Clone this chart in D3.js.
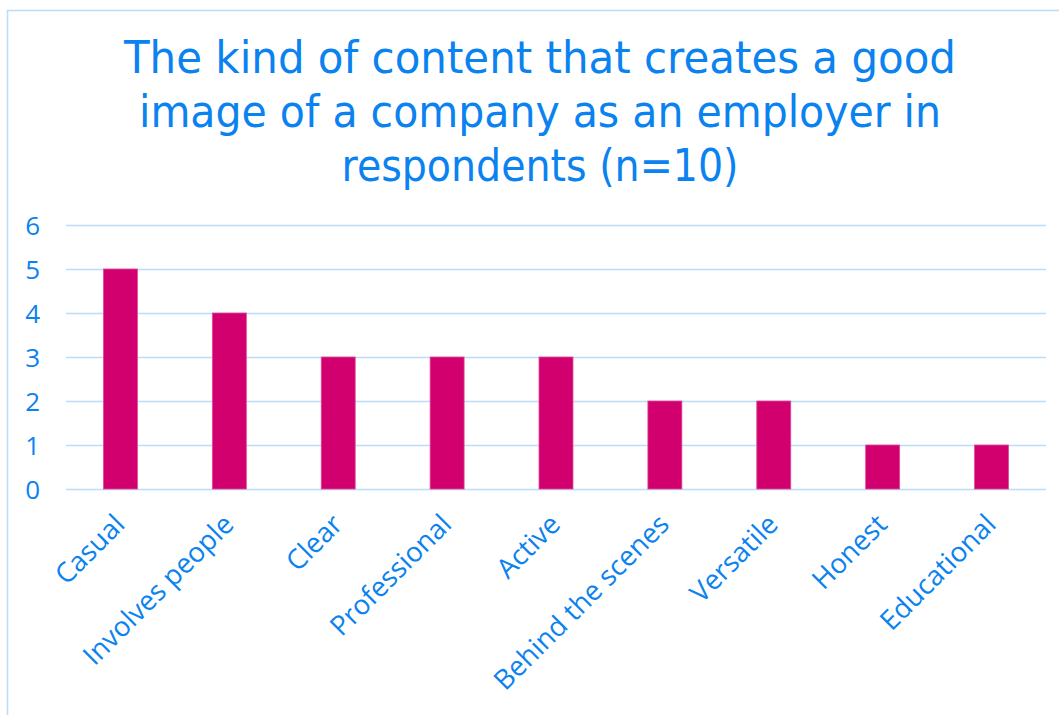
<!DOCTYPE html>
<html>
<head>
<meta charset="utf-8">
<script src="https://cdn.jsdelivr.net/npm/d3@7"></script>
<style>
  html, body { margin: 0; padding: 0; background: #ffffff; }
  svg { display: block; }
</style>
</head>
<body>
<svg id="chart" width="1059" height="715"></svg>
<script>
// Survey answers: kinds of content that build an employer image
const categories = ["Casual", "Involves people", "Clear", "Professional", "Active",
                    "Behind the scenes", "Versatile", "Honest", "Educational"];
const counts = [5, 4, 3, 3, 3, 2, 2, 1, 1];
const yTicks = [0, 1, 2, 3, 4, 5, 6];
const titleLines = ["The kind of content that creates a good",
                    "image of a company as an employer in",
                    "respondents (n=10)"];

const BLUE = "#0a82ef";
const GRID = "#bcdcf8";
const BAR = "#d2006f";

const svg = d3.select("#chart");

// outer frame
svg.append("rect")
  .attr("x", 7.5).attr("y", 10.5)
  .attr("width", 1100).attr("height", 800)
  .attr("fill", "none").attr("stroke", "#bcdcf8").attr("stroke-width", 1.6);

// title
const titleWidths = [832, 802, 397];
const titleBase = [73, 127, 181];
svg.append("g").selectAll("text")
  .data(titleLines)
  .join("text")
  .attr("x", 540)
  .attr("y", (d, i) => titleBase[i])
  .attr("text-anchor", "middle")
  .attr("textLength", (d, i) => titleWidths[i])
  .attr("lengthAdjust", "spacingAndGlyphs")
  .style("font-family", "'DejaVu Sans', Tahoma, sans-serif")
  .style("font-size", "44px")
  .attr("fill", BLUE)
  .text(d => d);

// scales
const x = d3.scaleBand()
  .domain(categories)
  .range([66, 1046])
  .paddingInner(0.688)
  .paddingOuter(0.344);

const y = d3.scaleLinear()
  .domain([0, 6])
  .range([489, 225]);

// horizontal grid lines
svg.append("g")
  .attr("transform", "translate(66,0)")
  .call(d3.axisLeft(y).tickValues(yTicks).tickSize(-980).tickFormat(""))
  .call(g => g.select(".domain").remove())
  .call(g => g.selectAll(".tick line").attr("stroke", GRID).attr("stroke-width", 1.7));

// y axis labels
svg.append("g")
  .attr("transform", "translate(40,0)")
  .call(d3.axisLeft(y).tickValues(yTicks).tickSize(0).tickPadding(0).tickFormat(d3.format("d")))
  .call(g => g.select(".domain").remove())
  .call(g => g.selectAll(".tick text")
    .attr("fill", BLUE)
    .attr("dy", "0.36em")
    .style("font-family", "'Open Sans', 'Noto Sans', sans-serif")
    .style("font-size", "26px"));

// bars
svg.append("g").selectAll("rect")
  .data(categories)
  .join("rect")
  .attr("x", d => x(d))
  .attr("y", (d, i) => y(counts[i]))
  .attr("width", x.bandwidth())
  .attr("height", (d, i) => y(0) - y(counts[i]))
  .attr("fill", BAR)
  .attr("stroke", "#e04a98")
  .attr("stroke-width", 0.8);

// slanted category labels
svg.append("g").selectAll("text")
  .data(categories)
  .join("text")
  .attr("transform", d => `translate(${x(d) + x.bandwidth() / 2 + 6},526) rotate(-45)`)
  .attr("text-anchor", "end")
  .attr("fill", BLUE)
  .style("font-family", "'Open Sans', 'Noto Sans', sans-serif")
  .style("font-size", "27.5px")
  .text(d => d);
</script>
</body>
</html>
